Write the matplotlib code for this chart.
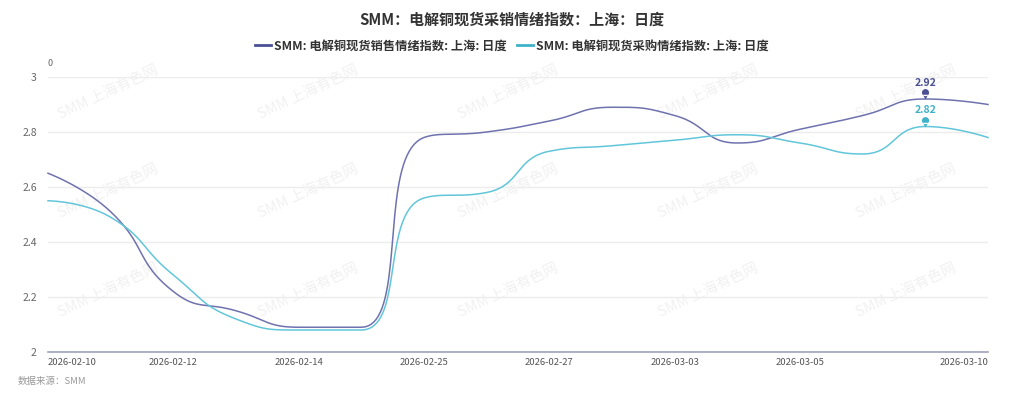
import matplotlib
matplotlib.use("Agg")
import matplotlib.pyplot as plt
import numpy as np
from matplotlib.path import Path

plt.rcParams['font.family'] = ['Noto Sans CJK SC', 'DejaVu Sans']

dates = ['2026-02-10', '2026-02-11', '2026-02-12', '2026-02-13', '2026-02-14',
         '2026-02-24', '2026-02-25', '2026-02-26', '2026-02-27', '2026-03-02',
         '2026-03-03', '2026-03-04', '2026-03-05', '2026-03-06', '2026-03-09',
         '2026-03-10']
sales = [2.65, 2.51, 2.22, 2.15, 2.09, 2.09, 2.78, 2.80, 2.84, 2.89,
         2.86, 2.76, 2.81, 2.86, 2.92, 2.90]
purchase = [2.55, 2.49, 2.28, 2.12, 2.08, 2.08, 2.56, 2.58, 2.73, 2.75,
            2.77, 2.79, 2.76, 2.72, 2.82, 2.78]
names = ['SMM: 电解铜现货销售情绪指数: 上海: 日度', 'SMM: 电解铜现货采购情绪指数: 上海: 日度']
line_colors = ['#6f72ae', '#62c6da']
mark_colors = ['#4b4f94', '#3db2c8']
shown_ticks = [0, 2, 4, 6, 8, 10, 12, 15]


def smooth_line(xs, ys, sx, sy, smooth=0.5, n=40):
    # echarts-like bezier smoothing, done in pixel space
    P = np.column_stack([np.asarray(xs, float) * sx, np.asarray(ys, float) * sy])
    out = [P[0]]
    cp0 = P[0].copy()
    for i in range(1, len(P)):
        x, y = P[i]
        px, py = P[i - 1]
        if i == len(P) - 1:
            cp1 = P[i].copy()
            nxt_cp0 = None
        else:
            nx, ny = P[i + 1]
            vx, vy = nx - px, ny - py
            l0 = np.hypot(x - px, y - py)
            l1 = np.hypot(nx - x, ny - y)
            r = l1 / (l0 + l1)
            ncx = x + vx * smooth * r
            ncy = y + vy * smooth * r
            ncx = min(max(ncx, min(nx, x)), max(nx, x))
            ncy = min(max(ncy, min(ny, y)), max(ny, y))
            vx, vy = ncx - x, ncy - y
            c1x = x - vx * l0 / l1
            c1y = y - vy * l0 / l1
            c1x = min(max(c1x, min(px, x)), max(px, x))
            c1y = min(max(c1y, min(py, y)), max(py, y))
            vx, vy = x - c1x, y - c1y
            ncx = x + vx * l1 / l0
            ncy = y + vy * l1 / l0
            cp1 = np.array([c1x, c1y])
            nxt_cp0 = np.array([ncx, ncy])
        t = np.linspace(0, 1, n)[1:, None]
        seg = ((1 - t) ** 3) * P[i - 1] + 3 * ((1 - t) ** 2) * t * cp0 \
            + 3 * (1 - t) * t ** 2 * cp1 + t ** 3 * P[i]
        out.extend(seg)
        if nxt_cp0 is not None:
            cp0 = nxt_cp0
    out = np.array(out)
    return out[:, 0] / sx, out[:, 1] / sy


# pin shaped marker, tip at the data point
circ = Path.circle((0, 1.45), 0.75)
tri = Path([(-0.55, 1.0), (0.55, 1.0), (0, 0), (-0.55, 1.0)],
           [Path.MOVETO, Path.LINETO, Path.LINETO, Path.CLOSEPOLY])
pin = Path.make_compound_path(circ, tri)

fig = plt.figure(figsize=(10.24, 3.99), dpi=100)
ax = fig.add_axes([48 / 1024, 1 - 352 / 399, 940 / 1024, 275 / 399])

# watermark, behind the lines
for wy in [92, 191, 290]:
    for wx in [108, 308, 508, 708, 906]:
        ax.text(wx / 1024, 1 - wy / 399, 'SMM 上海有色网', rotation=25,
                transform=fig.transFigure, ha='center', va='center',
                fontsize=10.5, color='#f1f1f1', zorder=1, clip_on=False)

x = np.arange(len(dates))
sx = 940 / (len(dates) - 1)
for vals, name, lc, mc in zip([sales, purchase], names, line_colors, mark_colors):
    cx, cy = smooth_line(x, vals, sx, 275.0)
    ax.plot(cx, cy, color=lc, lw=1.1, label=name, zorder=3, clip_on=False)
    k = int(np.argmax(vals))
    ax.plot([x[k]], [vals[k]], marker=pin, markersize=15, color=mc,
            markeredgewidth=0, zorder=4, clip_on=False)
    ax.annotate(f'{vals[k]:.2f}', (x[k], vals[k]), xytext=(0, 8),
                textcoords='offset points', ha='center', va='bottom',
                fontsize=7.5, color=mc, fontweight='bold')

ax.set_xlim(0, len(dates) - 1)
ax.set_ylim(2, 3)
ax.set_yticks([2, 2.2, 2.4, 2.6, 2.8, 3])
ax.set_yticklabels(['2', '2.2', '2.4', '2.6', '2.8', '3'])
ax.grid(axis='y', color='#ececec', lw=1)
ax.set_axisbelow(True)
for s in ['top', 'right', 'left']:
    ax.spines[s].set_visible(False)
ax.spines['bottom'].set_color('#9ea3b6')
ax.spines['bottom'].set_linewidth(1.2)
ax.tick_params(axis='y', length=0, labelsize=7.5, labelcolor='#666666', pad=8)
ax.tick_params(axis='x', length=0, labelsize=6.8, labelcolor='#555555', pad=4)
ax.set_xticks(shown_ticks)
labels = ax.set_xticklabels([dates[i] for i in shown_ticks])
labels[0].set_ha('left')
labels[-1].set_ha('right')

fig.text(0.5, 1 - 20 / 399, 'SMM：电解铜现货采销情绪指数：上海：日度',
         ha='center', va='center', fontsize=10.8, fontweight='bold',
         color='#333333')
fig.text(50 / 1024, 1 - 63 / 399, '0', ha='center', va='center',
         fontsize=6.5, color='#666666')
fig.text(18 / 1024, 1 - 381 / 399, '数据来源：SMM', ha='left', va='center',
         fontsize=6.8, color='#999999', style='italic')

leg = fig.legend(loc='center', bbox_to_anchor=(0.5, 1 - 46 / 399), ncol=2,
                 frameon=False, handlelength=1.3, handletextpad=0.3,
                 columnspacing=0.8, labelcolor='#333333',
                 prop={'size': 8.8, 'weight': 'bold'})
for h, c in zip(leg.legend_handles, mark_colors):
    h.set_color(c)
    h.set_linewidth(2)

fig.savefig('out.png', dpi=100)
